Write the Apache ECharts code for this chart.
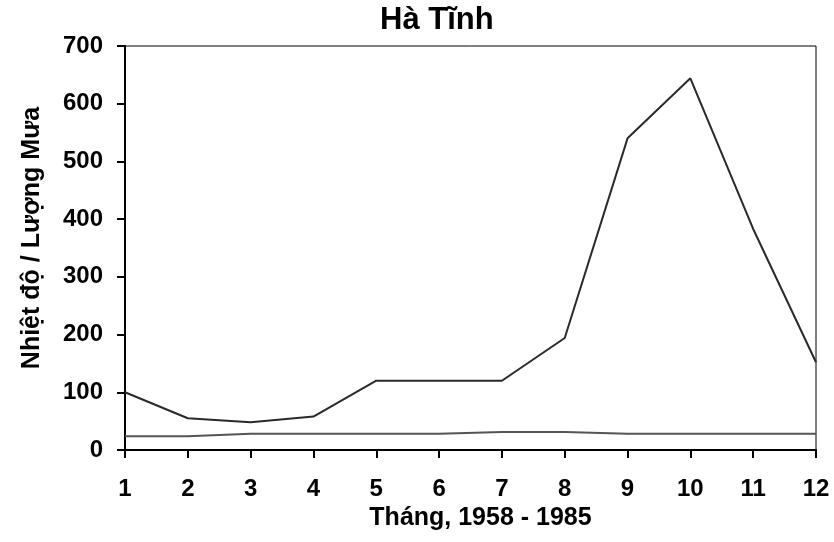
<!DOCTYPE html>
<html>
<head>
<meta charset="utf-8">
<script src="https://cdn.jsdelivr.net/npm/echarts@6/dist/echarts.min.js"></script>
<style>
html,body{margin:0;padding:0;background:#fff;}
#chart{width:834px;height:542px;}
</style>
</head>
<body>
<div id="chart"></div>
<script>
const months = ['1','2','3','4','5','6','7','8','9','10','11','12'];
const rainfall = [100, 55, 48, 58, 120, 120, 120, 194, 540, 644, 383, 152];
const temperature = [24, 24, 28, 28, 28, 28, 31, 31, 28, 28, 28, 28];
const yTicks = {min: 0, max: 700, interval: 100};

const font = '"Liberation Sans", Arial, sans-serif';
const chart = echarts.init(document.getElementById('chart'));
chart.setOption({
  animation: false,
  backgroundColor: '#fff',
  title: {
    text: 'Hà Tĩnh',
    left: 380,
    top: 5,
    padding: 0,
    textStyle: {fontFamily: font, fontWeight: 'bold', fontSize: 31, color: '#000'}
  },
  grid: {
    left: 125, right: 18, top: 46, bottom: 92,
    show: true, borderColor: '#000', borderWidth: 1, backgroundColor: '#fff'
  },
  xAxis: {
    type: 'category',
    data: months,
    boundaryGap: false,
    name: 'Tháng, 1958 - 1985',
    nameLocation: 'middle',
    nameGap: 46,
    nameTextStyle: {fontFamily: font, fontWeight: 'bold', fontSize: 25, color: '#000', padding: [0,0,0,20]},
    axisLine: {lineStyle: {color: '#000', width: 2}},
    axisTick: {show: true, length: 8, lineStyle: {color: '#000', width: 2}, interval: 0},
    axisLabel: {fontFamily: font, fontWeight: 'bold', fontSize: 24, color: '#000', margin: 27, interval: 0},
    splitLine: {show: false}
  },
  yAxis: {
    type: 'value',
    min: yTicks.min, max: yTicks.max, interval: yTicks.interval,
    name: 'Nhiệt độ / Lượng Mưa',
    nameLocation: 'middle',
    nameGap: 80,
    nameTextStyle: {fontFamily: font, fontWeight: 'bold', fontSize: 25, color: '#000', padding: [0,0,0,20]},
    axisLine: {show: true, lineStyle: {color: '#000', width: 2}},
    axisTick: {show: true, length: 8, lineStyle: {color: '#000', width: 2}},
    axisLabel: {fontFamily: font, fontWeight: 'bold', fontSize: 24, color: '#000', margin: 22},
    splitLine: {show: false}
  },
  series: [
    {
      name: 'Lượng Mưa', type: 'line', data: rainfall,
      symbol: 'none', lineStyle: {color: '#2a2a2a', width: 2}
    },
    {
      name: 'Nhiệt độ', type: 'line', data: temperature,
      symbol: 'none', lineStyle: {color: '#555', width: 2}
    }
  ]
});
</script>
</body>
</html>
